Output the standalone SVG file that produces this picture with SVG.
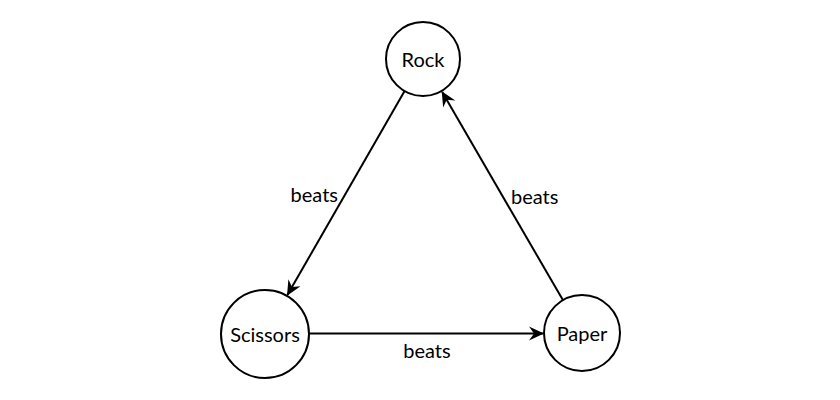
<svg xmlns="http://www.w3.org/2000/svg" width="840" height="400" viewBox="0 0 840 400">
<style>
.node circle{fill:#fff;stroke:#000;stroke-width:2}
text{font-family:"Lato","Liberation Sans",sans-serif;font-size:20px;fill:#000}
.node text{text-anchor:middle;dominant-baseline:central}
.edge{stroke:#000;stroke-width:2;fill:none;marker-end:url(#stealth)}
</style>
<defs>
<marker id="stealth" viewBox="-16 -8 18 16" markerWidth="18" markerHeight="16" refX="0" refY="0" orient="auto" markerUnits="userSpaceOnUse">
<path d="M1,0 L-14,-7 L-9,0 L-14,7 Z" fill="#000"/>
</marker>
</defs>
<rect width="840" height="400" fill="#fff"/>
<g id="edges">
<line class="edge" x1="404.6" y1="91.1" x2="287.5" y2="294.8"/>
<line class="edge" x1="562.9" y1="300.1" x2="442.2" y2="92"/>
<line class="edge" x1="309" y1="333.5" x2="543" y2="333.5"/>
<text x="338" y="202" text-anchor="end">beats</text>
<text x="511" y="204">beats</text>
<text x="427" y="358" text-anchor="middle">beats</text>
</g>
<g id="rock" class="node"><circle cx="423" cy="59" r="37"/><text x="423" y="59">Rock</text></g>
<g id="scissors" class="node"><circle cx="265" cy="334" r="44"/><text x="265" y="334">Scissors</text></g>
<g id="paper" class="node"><circle cx="582" cy="333" r="38"/><text x="582" y="333">Paper</text></g>
</svg>
